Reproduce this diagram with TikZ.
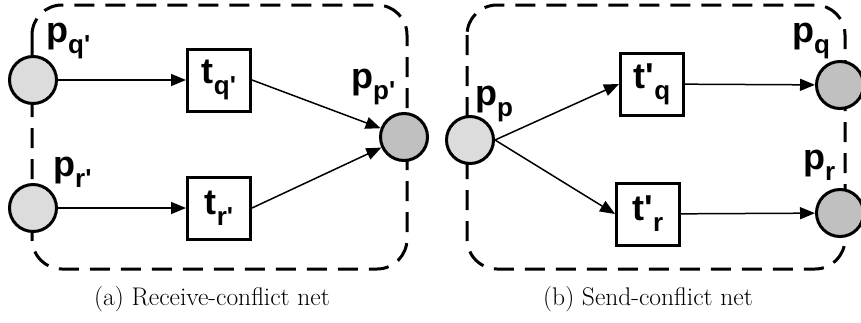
\documentclass[tikz,border=0pt]{standalone}
\usepackage{fontspec}
\setmainfont{Latin Modern Roman}
\newfontfamily\labfont[Scale=1]{Liberation Sans}
\usetikzlibrary{arrows.meta}
\definecolor{lightfill}{HTML}{DCDCDC}
\definecolor{darkfill}{HTML}{C0C0C0}
\newcommand{\plab}[2]{{\labfont\bfseries\fontsize{36}{36}\selectfont #1\raisebox{-11pt}{\fontsize{26}{26}\selectfont #2}}}
\begin{document}
\begin{tikzpicture}[x=1pt,y=-1pt,
  place/.style={circle,draw,line width=3pt,minimum size=47pt,inner sep=0pt},
  lplace/.style={place,fill=lightfill},
  dplace/.style={place,fill=darkfill},
  trans/.style={draw,line width=3pt,fill=white,minimum width=63pt,minimum height=62pt,inner sep=0pt},
  arc/.style={line width=1.5pt,-{Triangle[length=15pt,width=12pt]}},
  region/.style={line width=3pt,dash pattern=on 20pt off 11pt,rounded corners=30pt},
  lab/.style={inner sep=0pt,anchor=base west},
  captext/.style={font=\fontsize{25.5}{25.5}\selectfont,anchor=base}]
\useasboundingbox (0,0) rectangle (861,322);
% regions
\draw[region] (32,5) rectangle (407,269);
\draw[region] (467,5) rectangle (845,269);
% left net
\node[lplace] (pq1) at (33,80) {};
\node[lplace] (pr1) at (33,208) {};
\node[dplace] (pp1) at (404,137) {};
\node[trans] (tq1) at (219,80) {\plab{t}{q'}};
\node[trans] (tr1) at (219,208) {\plab{t}{r'}};
\node[lab] (lpq1) at (46,42) {\plab{p}{q'}};
\node[lab] (lpr1) at (53,176) {\plab{p}{r'}};
\node[lab] (lpp1) at (351,88) {\plab{p}{p'}};
\draw[arc] (pq1) -- (tq1);
\draw[arc] (pr1) -- (tr1);
\draw[arc] (tq1.east) -- (pp1);
\draw[arc] (tr1.east) -- (pp1);
% right net
\node[lplace] (pp2) at (470,140) {};
\node[dplace] (pq2) at (840,85) {};
\node[dplace] (pr2) at (840,213) {};
\node[trans] (tq2) at (652,84) {\plab{t'}{q}};
\node[trans] (tr2) at (648,214) {\plab{t'}{r}};
\node[lab] (lpp2) at (475,105) {\plab{p}{p}};
\node[lab] (lpq2) at (792,42) {\plab{p}{q}};
\node[lab] (lpr2) at (803,169) {\plab{p}{r}};
\draw[arc] (pp2.east) -- (tq2.west);
\draw[arc] (pp2.east) -- (tr2.west);
\draw[arc] (tq2) -- (pq2);
\draw[arc] (tr2) -- (pr2);
% captions
\node[captext] (capa) at (212,305) {(a) Receive-conflict net};
\node[captext] (capb) at (648,305) {(b) Send-conflict net};
\end{tikzpicture}
\end{document}
